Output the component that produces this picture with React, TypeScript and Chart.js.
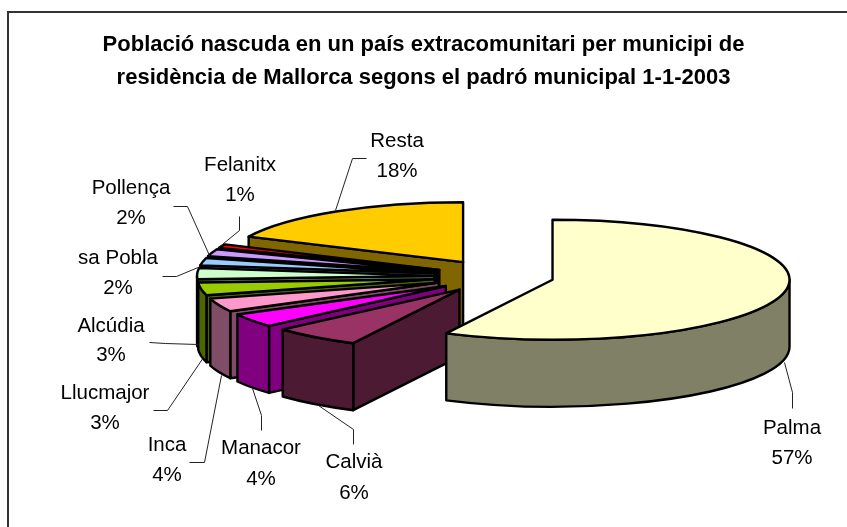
import React, { useEffect, useRef } from "react";
import { Chart, registerables } from "chart.js";

Chart.register(...registerables);

// ---- data ----
const municipalities = ["Palma", "Calvià", "Manacor", "Inca", "Llucmajor", "Alcúdia", "sa Pobla", "Pollença", "Felanitx", "Resta"];
const shares = [57.4, 6.0, 3.7, 3.6, 3.4, 3.0, 2.0, 1.9, 1.0, 18.0];
const titleLines = [
  "Població nascuda en un país extracomunitari per municipi de",
  "residència de Mallorca segons el padró municipal 1-1-2003",
];

// ---- style ----
const topColors = ["#FFFFCC", "#993366", "#FF00FF", "#FF99CC", "#99CC00", "#CCFFCC", "#99CCFF", "#CC99FF", "#FF0000", "#FFCC00"];
const wallColors = ["#808066", "#4D1A33", "#800080", "#804D66", "#4D6600", "#668066", "#4D6680", "#664D80", "#800000", "#806600"];
const explode = [55, 65, 65, 65, 65, 65, 65, 65, 65, 67];
const FONT = "'Liberation Sans', Arial, sans-serif";
const PIE_RADIUS = 237;
const SQUASH = 60 / 237;
const DEPTH = 67;
const PIE_SHIFT_X = 75.5;

// ---- layout of callouts ----
const labelAnchors: [number, number, number][] = [
  [792, 428, 458], [354, 462, 493], [261, 448, 479], [167, 445, 475], [105, 393, 423],
  [111, 326, 355], [118, 258, 288], [131, 188, 218], [240, 165, 195], [397, 141, 171],
];
const leaders: [number, number][][] = [
  [[784, 362], [792, 392], [792, 408]],
  [[318, 405], [353, 429], [353, 444]],
  [[252, 388], [261, 415], [261, 430]],
  [[221, 375], [204, 462], [189, 462]],
  [[203, 357], [167, 410], [153, 410]],
  [[198, 344], [165, 343], [149, 342]],
  [[200, 266], [176, 276], [162, 276]],
  [[209, 255], [187, 206], [173, 206]],
  [[217, 248], [239, 230], [239, 216]],
  [[335, 210], [352, 158], [366, 158]],
];

const pie3d = {
  id: "pie3d",
  beforeDraw(chart: any) {
    const ctx = chart.ctx;
    ctx.save();
    ctx.strokeStyle = "#333333";
    ctx.lineWidth = 2;
    ctx.beginPath();
    ctx.moveTo(8, 527);
    ctx.lineTo(8, 12);
    ctx.lineTo(847, 12);
    ctx.stroke();
    ctx.restore();
  },
  beforeDatasetsDraw(chart: any) {
    const ctx = chart.ctx;
    const arcs = chart.getDatasetMeta(0).data;
    ctx.save();
    ctx.lineWidth = 2.4;
    ctx.lineJoin = "round";
    ctx.strokeStyle = "#000000";
    // back to front: Resta first, Palma last
    for (let i = arcs.length - 1; i >= 0; i--) {
      const arc = arcs[i];
      const { x, y, startAngle: a1, endAngle: a2, outerRadius: r } = arc;
      const mid = (a1 + a2) / 2;
      const off = arc.options.offset;
      const cx = x + PIE_SHIFT_X + Math.cos(mid) * off;
      const cy = y + Math.sin(mid) * off * SQUASH;
      const ry = r * SQUASH;
      const px = (a: number) => cx + Math.cos(a) * r;
      const py = (a: number) => cy + Math.sin(a) * ry;

      ctx.fillStyle = wallColors[i];
      // only the cut faces that turn towards the viewer
      const faces: number[] = [];
      if (Math.cos(a1) < 0) faces.push(a1);
      if (Math.cos(a2) > 0) faces.push(a2);
      for (const a of faces) {
        ctx.beginPath();
        ctx.moveTo(cx, cy);
        ctx.lineTo(px(a), py(a));
        ctx.lineTo(px(a), py(a) + DEPTH);
        ctx.lineTo(cx, cy + DEPTH);
        ctx.closePath();
        ctx.fill();
        ctx.stroke();
      }
      const w1 = Math.max(a1, 0);
      const w2 = Math.min(a2, Math.PI);
      if (w2 > w1) {
        ctx.beginPath();
        ctx.ellipse(cx, cy, r, ry, 0, w1, w2);
        ctx.lineTo(px(w2), py(w2) + DEPTH);
        ctx.ellipse(cx, cy + DEPTH, r, ry, 0, w2, w1, true);
        ctx.closePath();
        ctx.fill();
        ctx.stroke();
      }
      ctx.fillStyle = topColors[i];
      ctx.beginPath();
      ctx.moveTo(cx, cy);
      ctx.ellipse(cx, cy, r, ry, 0, a1, a2);
      ctx.closePath();
      ctx.fill();
      ctx.stroke();
    }
    ctx.restore();
    return false;
  },
  afterDraw(chart: any) {
    const ctx = chart.ctx;
    const total = shares.reduce((s, v) => s + v, 0);
    ctx.save();
    ctx.strokeStyle = "#222222";
    ctx.lineWidth = 1;
    leaders.forEach((pts) => {
      ctx.beginPath();
      pts.forEach(([px, py], k) => (k ? ctx.lineTo(px + 0.5, py + 0.5) : ctx.moveTo(px + 0.5, py + 0.5)));
      ctx.stroke();
    });
    ctx.fillStyle = "#000000";
    ctx.font = `20.5px ${FONT}`;
    ctx.textAlign = "center";
    ctx.textBaseline = "middle";
    municipalities.forEach((name, i) => {
      const [lx, y1, y2] = labelAnchors[i];
      ctx.fillText(name, lx, y1);
      ctx.fillText(`${Math.round((shares[i] / total) * 100)}%`, lx, y2);
    });
    ctx.restore();
  },
};

export default function App() {
  const ref = useRef<HTMLCanvasElement>(null);
  useEffect(() => {
    const chart = new Chart(ref.current!, {
      type: "pie",
      data: {
        labels: municipalities,
        datasets: [{ data: shares, backgroundColor: topColors, offset: explode, radius: PIE_RADIUS } as any],
      },
      options: {
        animation: false,
        responsive: false,
        layout: { padding: { bottom: 68 } },
        plugins: {
          legend: { display: false },
          tooltip: { enabled: false },
          title: {
            display: true,
            text: titleLines,
            color: "#000000",
            font: { family: FONT, size: 22, weight: "bold", lineHeight: 1.5 },
            padding: { top: 28, bottom: 0 },
          },
        },
      },
      plugins: [pie3d],
    } as any);
    return () => chart.destroy();
  }, []);
  return (
    <div style={{ position: "absolute", left: 0, top: 0, width: 847, height: 527, background: "#fff" }}>
      <canvas ref={ref} width={847} height={527} style={{ display: "block" }} />
    </div>
  );
}
